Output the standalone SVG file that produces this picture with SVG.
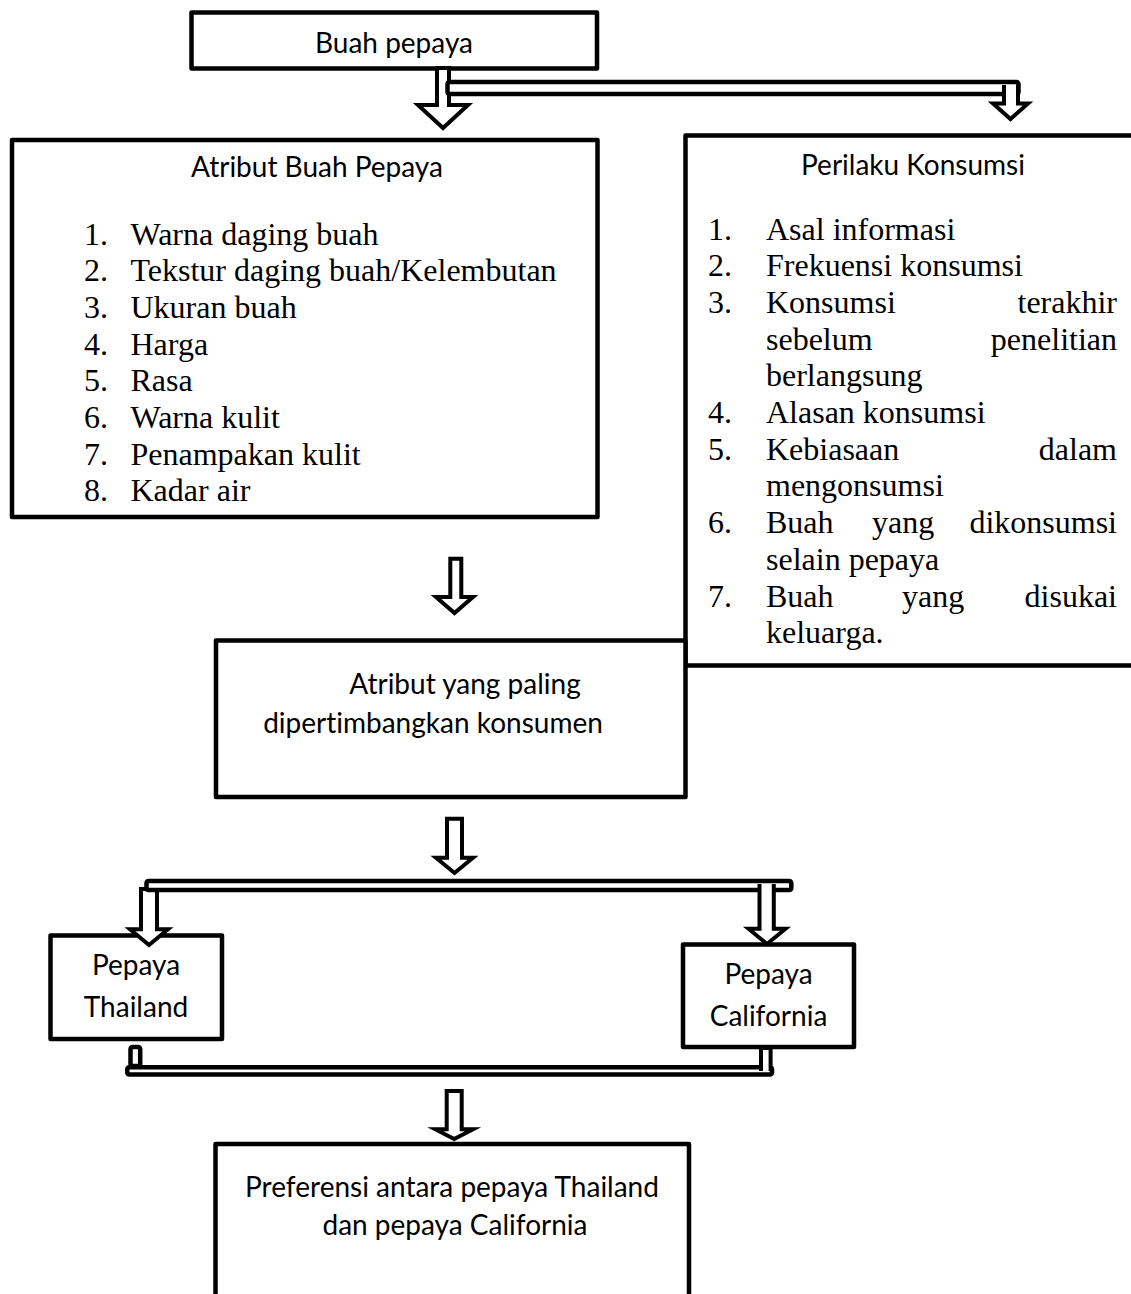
<svg xmlns="http://www.w3.org/2000/svg" width="1131" height="1294" viewBox="0 0 1131 1294">
<style>
.box{fill:#fff;stroke:#000;stroke-width:4.5;stroke-linejoin:round}
.cn{fill:#fff;stroke:#000;stroke-width:4;stroke-linejoin:miter;stroke-miterlimit:10}
.bar{fill:#fff;stroke:#000;stroke-width:4.5;stroke-linejoin:round}
.t{font-family:Lato,"Liberation Sans",sans-serif;font-size:28px;fill:#000;font-variant-ligatures:none}
.c{text-anchor:middle}
.s{font-family:"Liberation Serif","Times New Roman",serif;font-size:32px;fill:#000}
.e{text-anchor:end}
</style>
<rect width="1131" height="1294" fill="#fff"/>
<g id="node-buah">
<rect class="box" x="191.5" y="12.5" width="405.5" height="56"/>
<text class="t c" x="394" y="52.5">Buah pepaya</text>
</g>
<g id="node-atribut">
<rect class="box" x="12" y="140" width="585.5" height="377"/>
<text class="t c" x="317" y="177">Atribut Buah Pepaya</text>
<g class="s">
<text x="84" y="244.5">1.</text><text x="130.5" y="244.5">Warna daging buah</text>
<text x="84" y="281.2">2.</text><text x="130.5" y="281.2">Tekstur daging buah/Kelembutan</text>
<text x="84" y="317.9">3.</text><text x="130.5" y="317.9">Ukuran buah</text>
<text x="84" y="354.6">4.</text><text x="130.5" y="354.6">Harga</text>
<text x="84" y="391.3">5.</text><text x="130.5" y="391.3">Rasa</text>
<text x="84" y="428">6.</text><text x="130.5" y="428">Warna kulit</text>
<text x="84" y="464.7">7.</text><text x="130.5" y="464.7">Penampakan kulit</text>
<text x="84" y="501.4">8.</text><text x="130.5" y="501.4">Kadar air</text>
</g>
</g>
<g id="node-perilaku">
<rect class="box" x="685.5" y="135.5" width="460" height="530"/>
<text class="t c" x="913" y="175">Perilaku Konsumsi</text>
<g class="s">
<text x="708" y="239.5">1.</text><text x="766" y="239.5">Asal informasi</text>
<text x="708" y="276.2">2.</text><text x="766" y="276.2">Frekuensi konsumsi</text>
<text x="708" y="312.9">3.</text><text x="766" y="312.9">Konsumsi</text><text class="e" x="1117" y="312.9">terakhir</text>
<text x="766" y="349.6">sebelum</text><text class="e" x="1117" y="349.6">penelitian</text>
<text x="766" y="386.3">berlangsung</text>
<text x="708" y="423">4.</text><text x="766" y="423">Alasan konsumsi</text>
<text x="708" y="459.7">5.</text><text x="766" y="459.7">Kebiasaan</text><text class="e" x="1117" y="459.7">dalam</text>
<text x="766" y="496.4">mengonsumsi</text>
<text x="708" y="533.1">6.</text><text x="766" y="533.1">Buah</text><text x="872" y="533.1">yang</text><text class="e" x="1117" y="533.1">dikonsumsi</text>
<text x="766" y="569.8">selain pepaya</text>
<text x="708" y="606.5">7.</text><text x="766" y="606.5">Buah</text><text x="902" y="606.5">yang</text><text class="e" x="1117" y="606.5">disukai</text>
<text x="766" y="643.2">keluarga.</text>
</g>
</g>
<g id="node-atribut-paling">
<rect class="box" x="216" y="640.5" width="469.5" height="156.5"/>
<text class="t c" x="465" y="694">Atribut yang paling</text>
<text class="t c" x="433" y="733">dipertimbangkan konsumen</text>
</g>
<g id="node-thailand">
<rect class="box" x="50.5" y="935.5" width="171.5" height="103.5"/>
<text class="t c" x="136" y="975">Pepaya</text>
<text class="t c" x="136" y="1016.5">Thailand</text>
</g>
<g id="node-california">
<rect class="box" x="683" y="944.5" width="171" height="102.5"/>
<text class="t c" x="768.5" y="984">Pepaya</text>
<text class="t c" x="768.5" y="1026">California</text>
</g>
<g id="node-preferensi">
<rect class="box" x="215.5" y="1144" width="473.5" height="170"/>
<text class="t c" x="452" y="1196.5">Preferensi antara pepaya Thailand</text>
<text class="t c" x="455" y="1235">dan pepaya California</text>
</g>
<g id="connectors">
<path class="cn" d="M437,68 H449 V105 H468 L443,128 L418,105 H437 Z"/>
<rect class="bar" x="447.5" y="82" width="571" height="12" rx="2"/>
<path class="cn" d="M1004,85 V103.5 H993 L1010.5,119 L1028,103.5 H1018 V85"/>
<path class="cn" d="M450.3,558.7 H461.3 V597 H473 L454.5,613 L436,597 H450.3 Z"/>
<path class="cn" d="M447,818.7 H462 V857.7 H473 L454.5,873 L436,857.7 H447 Z"/>
<path class="cn" d="M141,889 H157 V929.3 H168 L149,945 L130,929.3 H141 Z"/>
<rect class="bar" x="146.5" y="881" width="644.8" height="9" rx="2"/>
<path class="cn" d="M759.5,884 V928.7 H748.5 L767,944 L785.5,928.7 H773.8 V884"/>
<rect class="bar" x="130.5" y="1047" width="9.7" height="19" rx="2"/>
<rect class="bar" x="127.3" y="1067.3" width="644.7" height="7.2" rx="2"/>
<path class="cn" d="M761,1071 V1048 H770.6 V1071"/>
<path class="cn" d="M446.7,1091 H461.7 V1129.3 H473 L454.2,1139 L435.4,1129.3 H446.7 Z"/>
</g>
</svg>
